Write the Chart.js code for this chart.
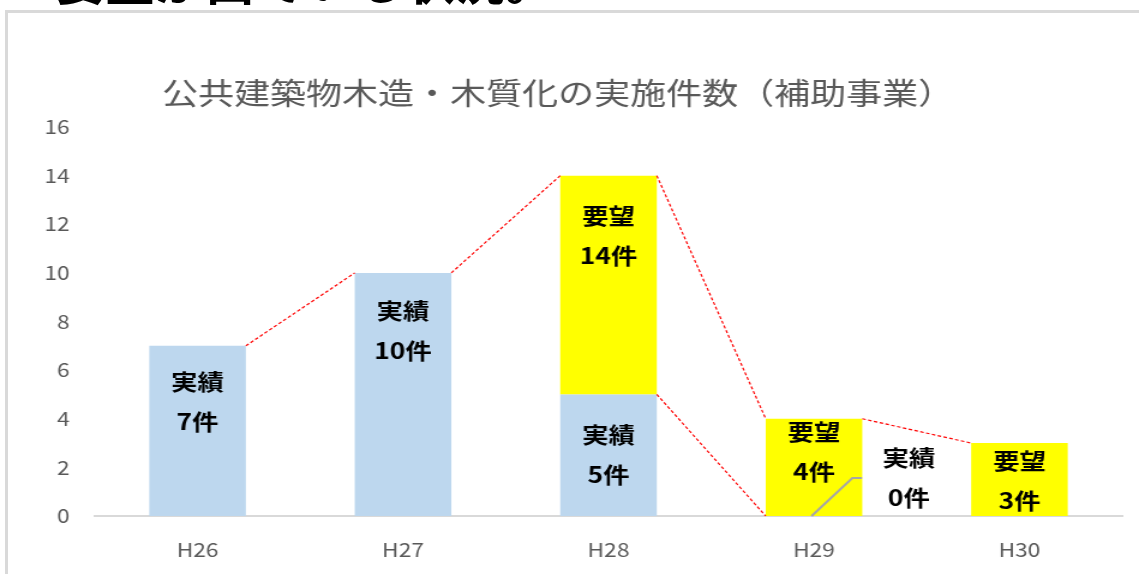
<!DOCTYPE html>
<html>
<head>
<meta charset="utf-8">
<script src="https://cdn.jsdelivr.net/npm/chart.js@4.4.1/dist/chart.umd.min.js"></script>
<style>
  html, body { margin: 0; padding: 0; background: #fff; width: 1139px; height: 574px; overflow: hidden; position: relative; }
  #lead { position: absolute; left: 55px; top: -47px; font: bold 50px/50px "Noto Sans CJK JP"; color: #000; white-space: nowrap; }
  #frame { position: absolute; left: 5px; top: 10px; width: 1300px; height: 700px; border: 3px solid #d9d9d9; box-sizing: border-box; }
  #wrap { position: absolute; left: 0; top: 0; width: 949px; height: 574px; transform: scaleX(1.2002); transform-origin: 0 0; }
</style>
</head>
<body>
<div id="lead">要望が出ている状況。</div>
<div id="frame"></div>
<div id="wrap"><canvas id="chart" width="949" height="574"></canvas></div>

<script>
// --- data ---
const categories = ['H26', 'H27', 'H28', 'H29', 'H30'];
const actual = [7, 10, 5, 0, null];        // 実績
const requested = [null, null, 14, 4, 3];  // 要望 (件数)
const yTicks = [0, 2, 4, 6, 8, 10, 12, 14, 16];
const titleText = '公共建築物木造・木質化の実施件数（補助事業）';

// 要望 segment sits on top of 実績
const requestSeg = requested.map((v, i) => v == null ? null : v - (actual[i] || 0));
const totals = categories.map((c, i) => Math.max(actual[i] || 0, requested[i] || 0));

// --- layout bits (not data) ---
const FONT = '"Noto Sans CJK JP", "Noto Sans", sans-serif';
const labelLayout = [
  { ds: 0, i: 0, dx: 0, dy: 36 },
  { ds: 0, i: 1, dx: 0, dy: 38 },
  { ds: 1, i: 2, dx: 0, dy: 40 },
  { ds: 0, i: 2, dx: 0, dy: 40 },
  { ds: 1, i: 3, dx: 0, dy: 13 },
  { ds: 0, i: 3, dx: 79, dy: -58 },
  { ds: 1, i: 4, dx: 0, dy: 18 }
];
const actualLinks = [[2, 3]]; // 実績 series line H28 -> H29

const decor = {
  id: 'decor',
  afterDatasetsDraw(chart) {
    const ctx = chart.ctx;
    const xs = chart.scales.x, ys = chart.scales.y;
    const bw = chart.getDatasetMeta(0).data[0].width;

    // title
    ctx.save();
    ctx.fillStyle = '#595959';
    ctx.font = '30px ' + FONT;
    ctx.textAlign = 'center';
    ctx.textBaseline = 'middle';
    ctx.fillText(titleText, 465, 93);
    ctx.restore();

    // red dashed connectors
    ctx.save();
    ctx.strokeStyle = '#ff0000';
    ctx.lineWidth = 1.2;
    ctx.setLineDash([3, 2]);
    const link = (i, a, b) => {
      ctx.beginPath();
      ctx.moveTo(xs.getPixelForValue(i) + bw / 2, ys.getPixelForValue(a));
      ctx.lineTo(xs.getPixelForValue(i + 1) - bw / 2, ys.getPixelForValue(b));
      ctx.stroke();
    };
    for (let i = 0; i < totals.length - 1; i++) link(i, totals[i], totals[i + 1]);
    actualLinks.forEach(([i, j]) => link(i, actual[i] || 0, actual[j] || 0));
    ctx.restore();

    // data labels
    ctx.save();
    ctx.fillStyle = '#000';
    ctx.font = 'bold 22px ' + FONT;
    ctx.textAlign = 'center';
    ctx.textBaseline = 'middle';
    labelLayout.forEach(l => {
      const top = l.ds === 0 ? (actual[l.i] || 0) : totals[l.i];
      const name = l.ds === 0 ? '実績' : '要望';
      const num = l.ds === 0 ? actual[l.i] : requested[l.i];
      const x = xs.getPixelForValue(l.i) + l.dx;
      const y = ys.getPixelForValue(top) + l.dy;
      ctx.fillText(name, x, y);
      ctx.fillText(num + '件', x, y + 40);
    });
    ctx.restore();

    // leader line for H29 実績 0件
    const cx = xs.getPixelForValue(3), base = ys.getPixelForValue(0);
    ctx.save();
    ctx.strokeStyle = '#a6a6a6';
    ctx.lineWidth = 2;
    ctx.beginPath();
    ctx.moveTo(cx - 2, base);
    ctx.lineTo(cx + 32, base - 38);
    ctx.lineTo(cx + 40, base - 38);
    ctx.stroke();
    ctx.restore();
  }
};

new Chart(document.getElementById('chart'), {
  type: 'bar',
  data: {
    labels: categories,
    datasets: [
      { label: '実績', data: actual, backgroundColor: '#BDD7EE', borderWidth: 0, barPercentage: 0.47, categoryPercentage: 1 },
      { label: '要望', data: requestSeg, backgroundColor: '#FFFF00', borderWidth: 0, barPercentage: 0.47, categoryPercentage: 1 }
    ]
  },
  options: {
    responsive: false,
    animation: false,
    layout: { padding: { top: 127, right: 14, left: 0, bottom: 0 } },
    plugins: { legend: { display: false }, tooltip: { enabled: false }, title: { display: false } },
    scales: {
      x: {
        stacked: true,
        grid: { display: false, drawTicks: false },
        border: { display: true, color: '#d9d9d9', width: 2 },
        ticks: { color: '#595959', font: { family: FONT, size: 19 }, padding: 22 },
        afterFit: s => { s.height = 58; }
      },
      y: {
        stacked: true,
        min: 0,
        max: 16,
        afterBuildTicks: s => { s.ticks = yTicks.map(v => ({ value: v })); },
        grid: { display: false, drawTicks: false },
        border: { display: false },
        ticks: { color: '#595959', font: { family: FONT, size: 19 }, padding: 21 },
        afterFit: s => { s.width = 79; }
      }
    }
  },
  plugins: [decor]
});
</script>
</body>
</html>
